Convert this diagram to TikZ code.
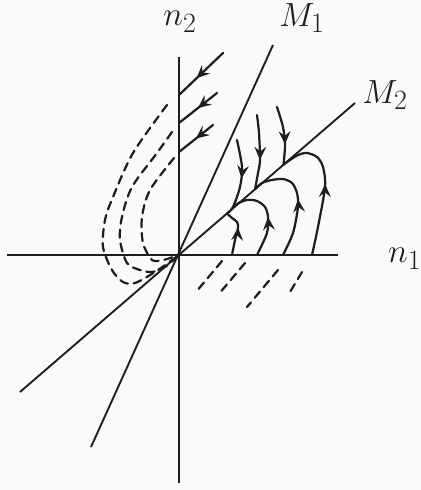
\documentclass[tikz,border=0pt]{standalone}
\usepackage{xcolor}
\usepackage{tikz}
\usetikzlibrary{arrows.meta,calc,decorations.markings}
\definecolor{sketchink}{RGB}{30,30,30}
\definecolor{sketchpaper}{RGB}{250,250,248}
\newcommand{\biglabel}[1]{\scalebox{1.15}{\Huge$#1$}}
\tikzset{
  axisline/.style={draw=sketchink, line width=2.3pt},
  rayline/.style={draw=sketchink, line width=1.6pt},
  flowline/.style={draw=sketchink, line width=1.9pt, line cap=round},
  flowdash/.style={flowline, dash pattern=on 7pt off 5pt},
  flowarrow/.style={postaction={decorate, decoration={markings,
      mark=at position #1 with {\arrow{Stealth[length=11pt, width=10pt, inset=4pt]}}}}},
  axislabel/.style={text=sketchink, inner sep=0pt}
}

\begin{document}
\begin{tikzpicture}[x=0.03cm, y=0.03cm]
    \fill[sketchpaper] (-179,-235) rectangle (242,255);
    \useasboundingbox (-179,-235) rectangle (242,255);
    \coordinate (O) at (0,0);
    \coordinate (n2top) at (0,198);
    \coordinate (n2bot) at (0,-228);
    \coordinate (n1left) at (-172,0);
    \coordinate (n1right) at (159,0);
    \coordinate (m1top) at (94,210);
    \coordinate (m1bot) at (-88,-192);
    \coordinate (m2top) at (176,152);
    \coordinate (m2bot) at (-159,-137);
    \coordinate (P1) at ($(O)!0.273!(m2top)$);
    \coordinate (P1b) at ($(O)!0.30!(m2top)$);
    \coordinate (P2) at ($(O)!0.432!(m2top)$);
    \coordinate (P3) at ($(O)!0.594!(m2top)$);
    \draw[axisline] (n2bot) -- (n2top);
    \draw[axisline] (n1left) -- (n1right);
    \draw[rayline] (m1bot) -- (m1top);
    \draw[rayline] (m2bot) -- (m2top);
    \node[axislabel] (lbln2) at (1,233) {\biglabel{n_2}};
    \node[axislabel] (lblm1) at (123,237) {\biglabel{M_1}};
    \node[axislabel] (lblm2) at (206,160) {\biglabel{M_2}};
    \node[axislabel, anchor=west] (lbln1) at (209,-4) {\biglabel{n_1}};
    \draw[flowline, flowarrow=0.6] (44,202) -- (0,160);
    \draw[flowline, flowarrow=0.5] (38,162) -- (0,132);
    \draw[flowline, flowarrow=0.5] (34,130) -- (0,103);
    \draw[flowdash] plot[smooth] coordinates {(-12,150) (-46,102) (-66,58) (-74,35) (-76,8) (-67,-15) (-56,-27) (-44,-28) (-24,-17) (O)};
    \draw[flowdash] plot[smooth] coordinates {(-7,123) (-22,102) (-47,68) (-57,38) (-59,15) (-52,-8) (-39,-15) (-27,-17) (-14,-12) (O)};
    \draw[flowdash] plot[smooth] coordinates {(-5,97) (-29,65) (-37,38) (-36,12) (-27,-5) (-16,-5) (-6,-2) (O)};
    \draw[flowline, flowarrow=0.5] plot[smooth] coordinates {(58,115) (63,88) (61,68) (54,48) (P1)};
    \draw[flowline, flowarrow=0.6] plot[smooth] coordinates {(78,140) (80,122) (81,95) (79,82) (P2)};
    \draw[flowline, flowarrow=0.65] plot[smooth] coordinates {(98,148) (104,128) (106,110) (P3)};
    \draw[flowline, flowarrow=0.6] plot[smooth] coordinates {(53,0) (56,15) (59,27) (58,33) (53,37) (P1)};
    \draw[flowline, flowarrow=0.45] plot[smooth] coordinates {(78,0) (88,22) (89,38) (86,48) (78,54) (68,55) (58,51) (P1b)};
    \draw[flowline, flowarrow=0.5] plot[smooth] coordinates {(104,0) (114,22) (119,48) (118,62) (113,72) (104,76) (93,75) (83,72) (P2)};
    \draw[flowline, flowarrow=0.52] plot[smooth] coordinates {(133,0) (139,28) (146,68) (144,88) (138,98) (128,102) (119,100) (111,95) (P3)};
    \draw[flowdash] (43,-6) -- (17,-37);
    \draw[flowdash] (66,-8) -- (39,-40);
    \draw[flowdash] (99,-15) -- (68,-52);
    \draw[flowdash] (123,-17) -- (111,-37);
  \end{tikzpicture}
\end{document}
